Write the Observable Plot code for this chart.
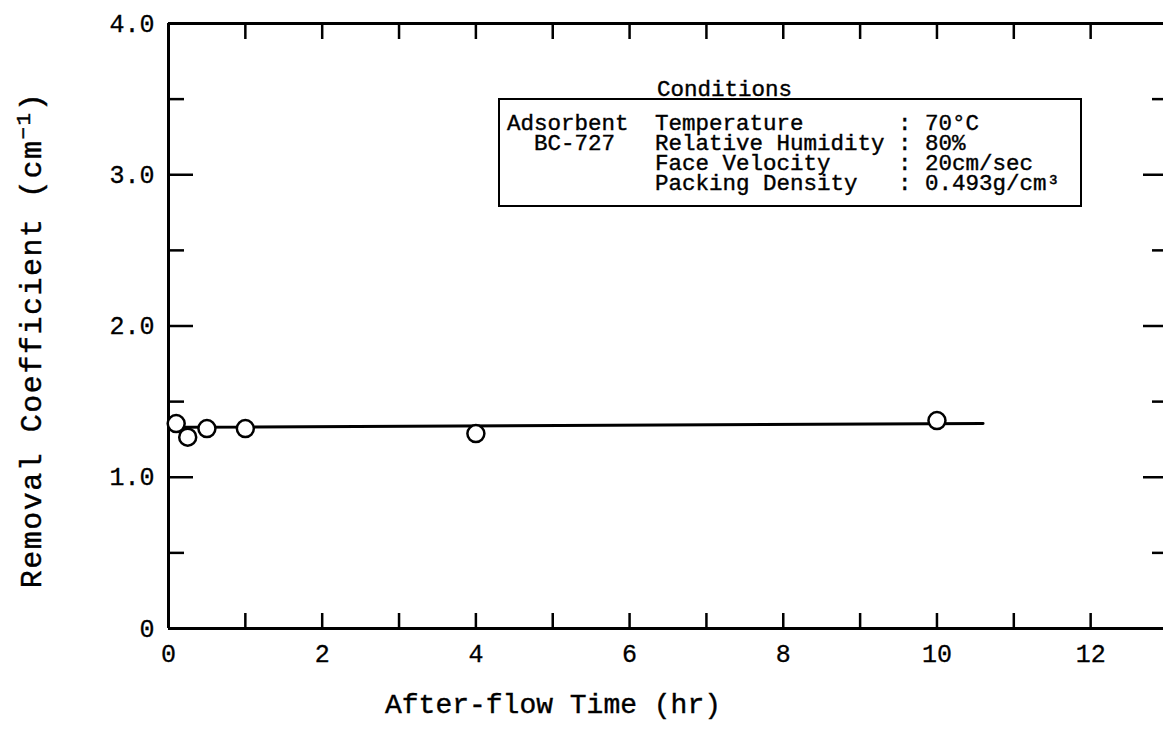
<!DOCTYPE html>
<html><head><meta charset="utf-8">
<script src="https://cdn.jsdelivr.net/npm/d3@7"></script>
<script src="https://cdn.jsdelivr.net/npm/@observablehq/plot@0.6"></script>
<style>
body{margin:0;background:#fff}
#wrap{position:relative;width:1163px;height:745px;overflow:hidden;font-family:"Liberation Mono","DejaVu Sans Mono",monospace;color:#000;background:#fff}
#wrap svg{position:absolute;left:0;top:0}
#wrap svg text{stroke:#000;stroke-width:0.3px}
.abs{position:absolute;white-space:pre;margin:0;-webkit-text-stroke:0.4px #000}
.box{position:absolute;border:2.5px solid #000;box-sizing:border-box}
.cond{font-size:22.5px;line-height:20px}
</style></head><body><div id="wrap"></div>
<script>
// data
const timeHr = [0.1, 0.25, 0.5, 1, 4, 10];
const removalCoef = [1.355, 1.265, 1.322, 1.322, 1.289, 1.375];
const fitTime = [0, 10.6];
const fitCoef = [1.33, 1.355];
const xTickLabels = [0, 2, 4, 6, 8, 10, 12];
const xTicks = d3.range(0, 14);
const yMajorTicks = [0, 1, 2, 3, 4];
const yMinorTicks = [0.5, 1.5, 2.5, 3.5];
const condNames = ["Temperature", "Relative Humidity", "Face Velocity", "Packing Density"];
const condValues = ["70°C", "80%", "20cm/sec", "0.493g/cm³"];
const xTitle = "After-flow Time (hr)";
const yTitle = "Removal Coefficient (cm<sup style=\"font-size:0.7em\">−1</sup>)";

const points = timeHr.map((t, i) => ({t, k: removalCoef[i]}));
const fit = fitTime.map((t, i) => ({t, k: fitCoef[i]}));
const yFmt = d => d === 0 ? "0" : d.toFixed(1);
const noText = () => "";

const chart = Plot.plot({
  width: 1163, height: 745,
  marginLeft: 168, marginRight: -4, marginTop: 23, marginBottom: 117,
  x: {domain: [0, 13]},
  y: {domain: [0, 4]},
  style: {fontFamily: "Liberation Mono, DejaVu Sans Mono, monospace", fontSize: "25px", color: "#000", background: "#fff"},
  marks: [
    Plot.ruleY([0, 4], {stroke: "#000", strokeWidth: 3}),
    Plot.ruleX([0], {stroke: "#000", strokeWidth: 3}),
    Plot.axisX(xTicks, {anchor: "bottom", tickSize: -15, tickFormat: noText, label: null, strokeWidth: 2.5}),
    Plot.axisX(xTicks, {anchor: "top", tickSize: -15, tickFormat: noText, label: null, strokeWidth: 2.5}),
    Plot.axisX(xTickLabels, {anchor: "bottom", tickSize: 0, tickPadding: 16, label: null, fontSize: 25}),
    Plot.axisY(yMajorTicks, {anchor: "left", tickSize: -25, tickFormat: noText, label: null, strokeWidth: 2.5}),
    Plot.axisY(yMinorTicks, {anchor: "left", tickSize: -16, tickFormat: noText, label: null, strokeWidth: 2.5}),
    Plot.axisY(yMajorTicks, {anchor: "right", tickSize: -25, tickFormat: noText, label: null, strokeWidth: 2.5}),
    Plot.axisY(yMinorTicks, {anchor: "right", tickSize: -16, tickFormat: noText, label: null, strokeWidth: 2.5}),
    Plot.axisY(yMajorTicks, {anchor: "left", tickSize: 0, tickPadding: 14, tickFormat: yFmt, label: null, fontSize: 25}),
    Plot.line(fit, {x: "t", y: "k", stroke: "#000", strokeWidth: 3}),
    Plot.dot(points, {x: "t", y: "k", r: 8.5, fill: "#fff", stroke: "#000", strokeWidth: 2.5})
  ]
});

const wrap = document.getElementById("wrap");
wrap.appendChild(chart);

function addDiv(cls, html, css) {
  const d = document.createElement("div");
  d.className = cls;
  d.innerHTML = html;
  Object.assign(d.style, css);
  wrap.appendChild(d);
  return d;
}
// axis titles
addDiv("abs", xTitle, {left: "553px", top: "705px", fontSize: "28px", transform: "translate(-50%,-50%)"});
addDiv("abs", yTitle, {left: "31px", top: "340px", fontSize: "30px", letterSpacing: "1.5px", transform: "translate(-50%,-50%) rotate(-90deg)"});
// conditions box
addDiv("box", "", {left: "498px", top: "98px", width: "584px", height: "109px"});
addDiv("abs cond", "Conditions", {left: "657px", top: "80px"});
addDiv("abs cond", "Adsorbent\n  BC-727", {left: "507px", top: "114px"});
const condLines = condNames.map((n, i) => n.padEnd(18, " ") + ": " + condValues[i]).join("\n");
addDiv("abs cond", condLines, {left: "655px", top: "114px"});
</script></body></html>
